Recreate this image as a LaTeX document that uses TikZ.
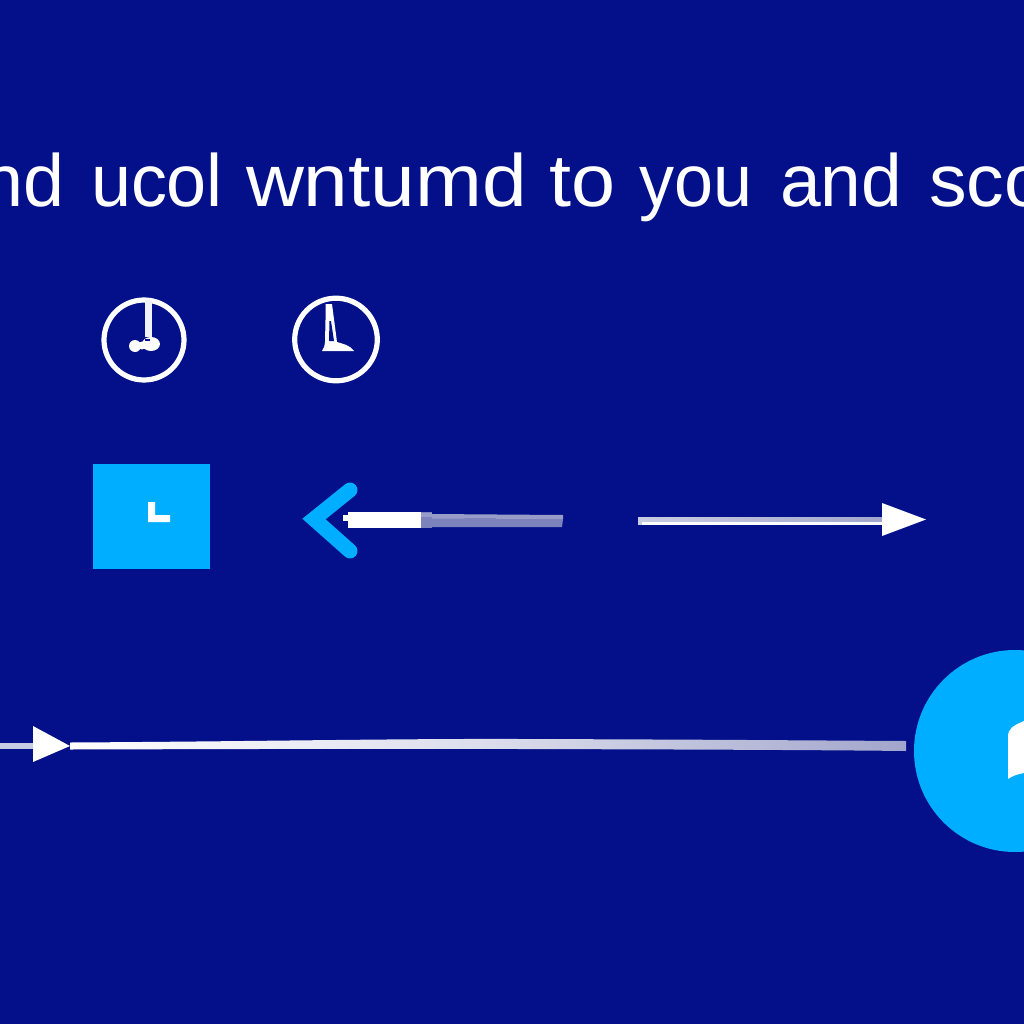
\documentclass[tikz,border=0pt]{standalone}
\usepackage{fontspec}
\setmainfont{Liberation Sans}
\usepackage{graphicx}
\definecolor{bgblue}{HTML}{03108A}
\definecolor{skyblue}{HTML}{00AEFF}
\definecolor{palebar}{HTML}{C8CCE2}
\definecolor{midbar}{HTML}{A2A6CC}
\definecolor{greybar}{HTML}{7C82BC}
\definecolor{greylite}{HTML}{989CC8}
\tikzset{
  word/.style={anchor=base west,inner sep=0pt,outer sep=0pt,text=white,font=\fontsize{74pt}{74pt}\selectfont},
  ring/.style={draw=white,line width=5.2pt,fill=none},
  tip/.style={fill=white,draw=none},
  sky/.style={fill=skyblue,draw=none},
}
\newcommand{\fitword}[2]{\resizebox{#1pt}{\height}{#2}}
\begin{document}
\begin{tikzpicture}[x=1pt,y=-1pt]
\useasboundingbox (0,0) rectangle (1024,1024);
\clip (0,0) rectangle (1024,1024);
\fill[bgblue] (0,0) rectangle (1024,1024);

% heading words
\node[word] (w1) at (-17,207) {\fitword{82}{nd}};
\node[word] (w2) at (91,207) {\fitword{132}{ucol}};
\node[word] (w3) at (246,207) {\fitword{281}{wntumd}};
\node[word] (w4) at (549,207) {\fitword{66}{to}};
\node[word] (w5) at (639,207) {\fitword{113}{you}};
\node[word] (w6) at (780,207) {\fitword{122}{and}};
\node[word] (w7) at (929,207) {\fitword{117}{sco}};

% clock icons
\draw[ring] (144,340) circle (40);
\fill[white!94!bgblue] (145,300) rectangle (152,337);
\fill[white] (135,346) circle (6);
\fill[white] (142,345.5) circle (4);
\fill[white] (151,344) ellipse (9 and 7);
\fill[bgblue] (145,338.5) rectangle (150,340.5);

\draw[ring] (336,339.5) circle (41.3);
\fill[white] (325.5,304) -- (332,304) -- (337,342) .. controls (343,344) and (350,345) .. (354,351)
  -- (322,351) .. controls (324,348) and (325,345) .. (325,342) -- (325.5,320) -- cycle;
\fill[bgblue] (329.5,321) -- (331,321) -- (334,341) -- (329,341) -- cycle;

% square with corner mark
\node[sky,minimum width=117pt,minimum height=105pt,inner sep=0pt] (sq) at (151.5,516.5) {};
\fill[white] (148,502) -- (155,502) -- (155,515) -- (170,515) -- (170,522) -- (148,522) -- cycle;

% left pointing chevron and bar
\draw[skyblue,line width=15pt,line cap=round,line join=miter] (350,490) -- (314,519) -- (350,551);
\fill[white] (343,514.5) rectangle (349,521);
\fill[white] (348,512) rectangle (421,528);
\fill[greybar] (421,512) rectangle (432,528);
\fill[greylite] (421,512.5) rectangle (432,517);
\fill[greybar] (432,518) -- (563,519) -- (562,527) -- (432,527) -- cycle;
\fill[greylite] (432,514) -- (563,515) -- (563,519) -- (432,518.5) -- cycle;

% right arrow, middle row
\coordinate (mstart) at (638,517);
\coordinate (mtip) at (926,519.5);
\shade[left color=palebar,right color=midbar] (mstart) rectangle (883,521.5);
\fill[white] (642,521.5) rectangle (883,524.5);
\fill[palebar] (638,521.5) rectangle (642,524.5);
\fill[tip] (882,503) -- (mtip) -- (882,536) -- cycle;

% long arrow, bottom row
\shade[left color=white,right color=midbar,middle color=white!62!midbar]
  (70,742.5) .. controls (250,741.5) and (400,738.5) .. (520,739)
  .. controls (700,739.5) and (820,740.5) .. (906,741)
  -- (906,751) .. controls (820,750) and (700,749.5) .. (520,749)
  .. controls (400,748.5) and (250,749) .. (70,749.5) -- cycle;
\fill[palebar] (0,743) rectangle (34,749);
\fill[tip] (33,726) -- (70,746) -- (33,762) -- cycle;

% circle with book mark
\fill[skyblue] (1015,751) circle (101);
\fill[white] (1008,779) -- (1008,737) .. controls (1008,729) and (1012,726) .. (1024,721)
  -- (1024,773) .. controls (1018,774) and (1012,776) .. (1008,779) -- cycle;
\end{tikzpicture}
\end{document}
